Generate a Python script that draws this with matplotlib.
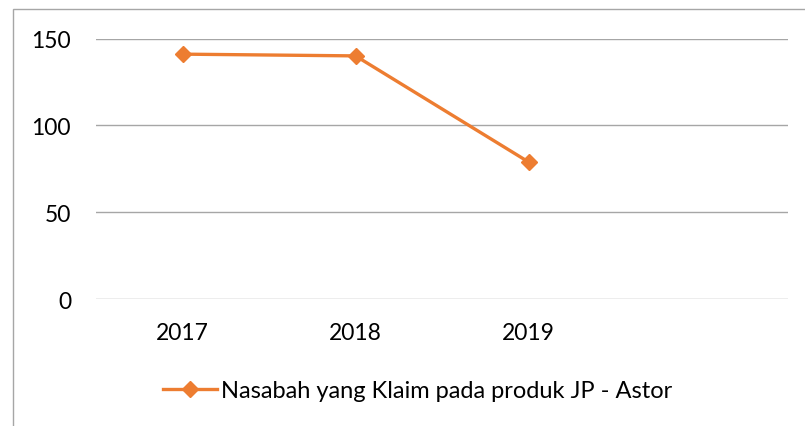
import matplotlib.pyplot as plt
from matplotlib.lines import Line2D
from matplotlib.patches import Rectangle

years = ["2017", "2018", "2019", ""]
klaim = [141, 140, 79]
series_name = "Nasabah yang Klaim pada produk JP - Astor"

orange = "#ED7D31"
grid_grey = "#A6A6A6"

plt.rcParams["font.family"] = ["Lato", "DejaVu Sans"]

fig = plt.figure(figsize=(8.05, 4.27), dpi=100)
ax = fig.add_axes([96 / 805, 1 - 300.3 / 427, 692 / 805, (300.3 - 39.5) / 427])

ax.plot(range(len(klaim)), klaim, color=orange, lw=2.4, marker="D",
        markersize=8.5, label=series_name, zorder=3)

ax.set_xlim(-0.5, len(years) - 0.5)
ax.set_ylim(0, 150)
ax.set_xticks(range(len(years)))
ax.set_xticklabels(years)
ax.set_yticks([0, 50, 100, 150])
ax.tick_params(axis="both", length=0, labelsize=16.5, colors="black")
ax.tick_params(axis="y", pad=18)
ax.tick_params(axis="x", pad=16)
ax.grid(axis="y", color=grid_grey, lw=1)
ax.set_axisbelow(True)
for s in ax.spines.values():
    s.set_visible(False)

# chart frame (only top and left edges are visible in the crop)
fig.patches.append(Rectangle((13 / 805, -0.2), 1.2, 1.2 - 10 / 427,
                             transform=fig.transFigure, fill=False,
                             edgecolor=grid_grey, lw=1))

handle = Line2D([], [], color=orange, lw=2.4, marker="D", markersize=8.5)
fig.legend([handle], [series_name], loc="center", bbox_to_anchor=(418 / 805, 1 - 392 / 427),
           frameon=False, fontsize=17, handlelength=2.25, handletextpad=0.2)

fig.savefig("out.png", dpi=100)
